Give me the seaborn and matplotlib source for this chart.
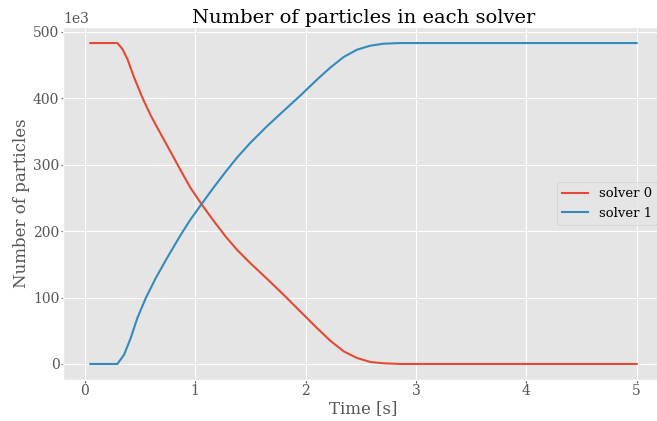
import matplotlib
matplotlib.use("Agg")
import matplotlib.pyplot as plt
import seaborn as sns
import pandas as pd

# ---- data ----
t_solver0 = [0.05, 0.295, 0.341, 0.386, 0.446, 0.521, 0.597, 0.687, 0.778, 0.868,
             0.958, 1.064, 1.169, 1.275, 1.381, 1.501, 1.652, 1.802, 1.953, 2.104,
             2.224, 2.345, 2.466, 2.586, 2.706, 2.857, 5.00]
n_solver0 = [483000, 483000, 474000, 459000, 431500, 401000, 374000, 346500, 319000,
             291500, 265000, 239000, 215000, 192000, 171500, 151500, 128000, 104000,
             79000, 54000, 35000, 19000, 9000, 3000, 1000, 0, 0]

t_solver1 = [0.05, 0.295, 0.356, 0.416, 0.476, 0.552, 0.642, 0.747, 0.868, 0.958,
             1.064, 1.169, 1.275, 1.381, 1.501, 1.652, 1.802, 1.953, 2.104, 2.224,
             2.345, 2.466, 2.586, 2.706, 2.857, 5.00]
n_solver1 = [0, 0, 14000, 39000, 69000, 99000, 129000, 160000, 194000, 217500,
             242000, 266000, 289000, 311000, 333000, 358000, 381000, 404000, 428000,
             446000, 462000, 473000, 479000, 482000, 483000, 483000]

labels = ["solver 0", "solver 1"]
colors = ["#E24A33", "#348ABD"]

df = pd.concat([
    pd.DataFrame({"Time": t_solver0, "N": n_solver0, "solver": labels[0]}),
    pd.DataFrame({"Time": t_solver1, "N": n_solver1, "solver": labels[1]}),
], ignore_index=True)

plt.style.use("ggplot")
plt.rcParams["font.family"] = ["DejaVu Serif"]
plt.rcParams["xtick.major.size"] = 1.8
plt.rcParams["ytick.major.size"] = 1.8
plt.rcParams["xtick.major.pad"] = 0.8
plt.rcParams["ytick.major.pad"] = 0.8

fig = plt.figure(figsize=(6.57, 4.21), dpi=100)
ax = fig.add_axes([63 / 657, 1 - 380 / 421, (664 - 63) / 657, (380 - 27) / 421])

sns.lineplot(data=df, x="Time", y="N", hue="solver", palette=colors,
             ax=ax, sort=False, estimator=None, linewidth=1.5)

ax.ticklabel_format(axis="y", style="sci", scilimits=(3, 3))
ax.set_title("Number of particles in each solver", fontsize=14, pad=3)
ax.set_xlabel("Time [s]", labelpad=2)
ax.set_ylabel("Number of particles", labelpad=2)
ax.legend(loc="center right", title=None, fontsize=9.5)

fig.savefig("out.png", dpi=100)
